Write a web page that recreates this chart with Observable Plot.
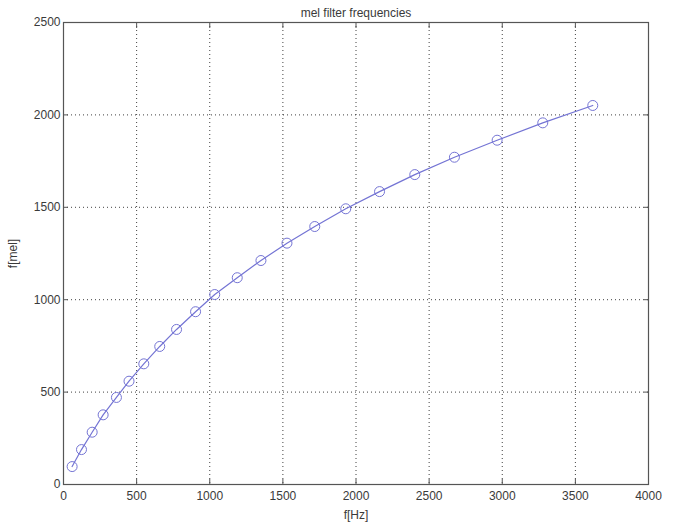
<!DOCTYPE html>
<html>
<head>
<meta charset="utf-8">
<script src="https://cdn.jsdelivr.net/npm/d3@7"></script>
<script src="https://cdn.jsdelivr.net/npm/@observablehq/plot@0.6"></script>
<style>
  html, body { margin: 0; padding: 0; background: #fff; }
  #chart svg { display: block; }
</style>
</head>
<body>
<div id="chart"></div>
<script>
const freqHz = [59, 123, 196, 271, 362, 448, 549, 658, 773, 903, 1034, 1188, 1350, 1528, 1718, 1930, 2161, 2402, 2673, 2965, 3277, 3619];
const freqMel = [97, 189, 283, 377, 471, 559, 653, 747, 839, 935, 1028, 1119, 1212, 1306, 1396, 1492, 1585, 1677, 1771, 1863, 1957, 2051];
const xTicks = [0, 500, 1000, 1500, 2000, 2500, 3000, 3500, 4000];
const yTicks = [0, 500, 1000, 1500, 2000, 2500];
const title = "mel filter frequencies";
const xLabel = "f[Hz]";
const yLabel = "f[mel]";

const data = freqHz.map((f, i) => ({hz: f, mel: freqMel[i]}));
const lineColor = "#7474d4";
const textColor = "#3a3a3a";
const fmt = d3.format("d");

const chart = Plot.plot({
  width: 676,
  height: 528,
  marginLeft: 63,
  marginRight: 28,
  marginTop: 22,
  marginBottom: 44,
  style: {fontFamily: "'Liberation Sans', Arial, sans-serif", fontSize: "12px", color: textColor, background: "#fff"},
  x: {domain: [0, 4000], ticks: xTicks},
  y: {domain: [0, 2500], ticks: yTicks},
  marks: [
    Plot.gridX(xTicks.slice(1, -1), {stroke: "#000", strokeOpacity: 0.75, strokeDasharray: "1,3"}),
    Plot.gridY(yTicks.slice(1, -1), {stroke: "#000", strokeOpacity: 0.75, strokeDasharray: "1,3"}),
    Plot.axisX(xTicks, {anchor: "bottom", tickSize: -5, tickPadding: 12, tickFormat: fmt, label: xLabel, labelAnchor: "center", labelArrow: "none", labelOffset: 34, stroke: "#555", fill: textColor}),
    Plot.axisX(xTicks, {anchor: "top", tickSize: -5, tickFormat: () => "", label: null, stroke: "#555"}),
    Plot.axisY(yTicks, {anchor: "left", tickSize: -5, tickPadding: 8, tickFormat: fmt, label: yLabel, labelAnchor: "center", labelArrow: "none", labelOffset: 55, stroke: "#555", fill: textColor}),
    Plot.axisY(yTicks, {anchor: "right", tickSize: -5, tickFormat: () => "", label: null, stroke: "#555"}),
    Plot.frame({stroke: "#555", strokeWidth: 1.2}),
    Plot.line(data, {x: "hz", y: "mel", stroke: lineColor, strokeWidth: 1.2}),
    Plot.dot(data, {x: "hz", y: "mel", r: 5, stroke: lineColor, fill: "none", strokeWidth: 1}),
    Plot.text([title], {frameAnchor: "top", dy: -14, fill: textColor, fontSize: 12})
  ]
});
document.getElementById("chart").appendChild(chart);
</script>
</body>
</html>
